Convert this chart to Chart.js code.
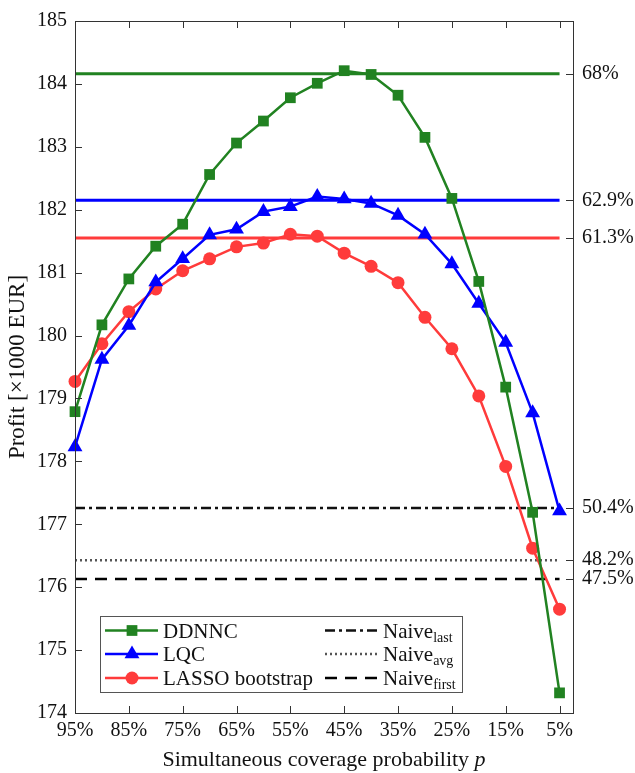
<!DOCTYPE html>
<html>
<head>
<meta charset="utf-8">
<script src="https://cdn.jsdelivr.net/npm/chart.js@4/dist/chart.umd.min.js"></script>
<style>
  html, body { margin: 0; padding: 0; background: #fff; }
  #wrap { width: 635px; height: 773px; }
</style>
</head>
<body>
<div id="wrap"><canvas id="profitChart"></canvas></div>
<script>
// simultaneous coverage probability p (%), from 95% down to 5%
var coverage = [95, 90, 85, 80, 75, 70, 65, 60, 55, 50, 45, 40, 35, 30, 25, 20, 15, 10, 5];

// profit in 1000 EUR for each method
var ddnnc = [178.79, 180.17, 180.90, 181.42, 181.77, 182.56, 183.06, 183.41, 183.78, 184.01,
             184.21, 184.15, 183.82, 183.15, 182.18, 180.86, 179.18, 177.19, 174.32];
var lqc   = [178.23, 179.62, 180.16, 180.85, 181.22, 181.60, 181.69, 181.97, 182.05, 182.21,
             182.17, 182.10, 181.91, 181.61, 181.14, 180.51, 179.89, 178.77, 177.21];
var lasso = [179.27, 179.87, 180.38, 180.74, 181.03, 181.22, 181.41, 181.47, 181.61, 181.58,
             181.31, 181.10, 180.84, 180.29, 179.79, 179.04, 177.92, 176.62, 175.65];

// reference levels: best DDNNC, best LQC, best LASSO, naive last / avg / first
var refLevels = [184.16, 182.15, 181.55, 177.26, 176.43, 176.13];
var refLabels = ['68%', '62.9%', '61.3%', '50.4%', '48.2%', '47.5%'];

var xTicks = [95, 85, 75, 65, 55, 45, 35, 25, 15, 5];

var GREEN = '#218221';
var BLUE = '#0000ff';
var RED = '#ff3b3b';
var SERIF = "'Liberation Serif', 'Times New Roman', serif";

function points(ys) {
    return ys.map(function (y, i) { return { x: coverage[i], y: y }; });
}
function level(v) {
    return [{ x: coverage[0], y: v }, { x: coverage[coverage.length - 1], y: v }];
}

function series(label, ys, color, style, radius) {
    return {
        label: label,
        data: points(ys),
        borderColor: color,
        backgroundColor: color,
        borderWidth: 2.5,
        pointStyle: style,
        pointRadius: radius,
        pointBorderWidth: 0,
        pointBackgroundColor: color,
        clip: false,
        legendText: label
    };
}
function hline(v, color, dash, width, legendText, legendSub) {
    return {
        data: level(v),
        borderColor: color,
        borderWidth: width,
        borderDash: dash,
        pointRadius: 0,
        legendText: legendText,
        legendSub: legendSub
    };
}

var datasets = [
    series('DDNNC', ddnnc, GREEN, 'rect', 7.6),
    series('LQC', lqc, BLUE, 'triangle', 8.6),
    series('LASSO bootstrap', lasso, RED, 'circle', 6.5),
    hline(refLevels[0], GREEN, [], 3),
    hline(refLevels[1], BLUE, [], 3),
    hline(refLevels[2], RED, [], 3),
    hline(refLevels[3], '#111', [10, 4, 3, 4], 2.5, 'Naive', 'last'),
    hline(refLevels[4], '#555', [2, 3], 2.5, 'Naive', 'avg'),
    hline(refLevels[5], '#000', [12, 8], 2.5, 'Naive', 'first')
];

function drawMarker(ctx, style, r, x, y, color) {
    ctx.fillStyle = color;
    ctx.beginPath();
    if (style === 'rect') {
        var s = r / Math.SQRT2;
        ctx.rect(x - s, y - s, 2 * s, 2 * s);
    } else if (style === 'triangle') {
        for (var k = 0; k < 3; k++) {
            var a = k * 2 * Math.PI / 3;
            var px = x + Math.sin(a) * r, py = y - Math.cos(a) * r;
            if (k === 0) ctx.moveTo(px, py); else ctx.lineTo(px, py);
        }
        ctx.closePath();
    } else {
        ctx.arc(x, y, r, 0, 2 * Math.PI);
    }
    ctx.fill();
}

// box, inward ticks, x title with italic p, and the two-column legend
var decorations = {
    id: 'decorations',
    afterDraw: function (chart) {
        var ctx = chart.ctx;
        var a = chart.chartArea;
        var sx = chart.scales.x, sy = chart.scales.y, sr = chart.scales.y2;
        var tick = 7;
        ctx.save();
        ctx.strokeStyle = '#333';
        ctx.lineWidth = 1;
        ctx.setLineDash([]);
        ctx.strokeRect(a.left + 0.5, a.top + 0.5, a.right - a.left, a.bottom - a.top);
        ctx.beginPath();
        sx.ticks.forEach(function (t) {
            var px = Math.round(sx.getPixelForValue(t.value)) + 0.5;
            ctx.moveTo(px, a.bottom); ctx.lineTo(px, a.bottom - tick);
            ctx.moveTo(px, a.top); ctx.lineTo(px, a.top + tick);
        });
        sy.ticks.forEach(function (t) {
            var py = Math.round(sy.getPixelForValue(t.value)) + 0.5;
            ctx.moveTo(a.left, py); ctx.lineTo(a.left + tick, py);
        });
        sr.ticks.forEach(function (t) {
            var py = Math.round(sr.getPixelForValue(t.value)) + 0.5;
            ctx.moveTo(a.right, py); ctx.lineTo(a.right - tick, py);
        });
        ctx.stroke();

        // x axis title
        ctx.fillStyle = '#111';
        ctx.textBaseline = 'alphabetic';
        var main = 'Simultaneous coverage probability ';
        ctx.font = '22px ' + SERIF;
        var w1 = ctx.measureText(main).width;
        ctx.font = 'italic 22px ' + SERIF;
        var w2 = ctx.measureText('p').width;
        var cx = (a.left + a.right) / 2;
        var x0 = cx - (w1 + w2) / 2;
        var ty = a.bottom + 53;
        ctx.font = '22px ' + SERIF;
        ctx.textAlign = 'left';
        ctx.fillText(main, x0, ty);
        ctx.font = 'italic 22px ' + SERIF;
        ctx.fillText('p', x0 + w1, ty);

        // legend
        var bx = a.left + 25, by = a.bottom - 97, bw = 362, bh = 76;
        ctx.fillStyle = '#fff';
        ctx.fillRect(bx, by, bw, bh);
        ctx.strokeStyle = '#555';
        ctx.lineWidth = 1;
        ctx.strokeRect(bx + 0.5, by + 0.5, bw, bh);
        var rows = [14.5, 38, 62];
        var cols = [5, 225];
        var ds = chart.data.datasets;
        var entries = [ds[0], ds[1], ds[2], ds[6], ds[7], ds[8]];
        entries.forEach(function (d, i) {
            var col = Math.floor(i / 3), row = i % 3;
            var lx = bx + cols[col], ly = by + rows[row];
            ctx.strokeStyle = d.borderColor;
            ctx.lineWidth = d.borderWidth;
            ctx.setLineDash(d.borderDash || []);
            ctx.beginPath();
            ctx.moveTo(lx, ly); ctx.lineTo(lx + 53, ly);
            ctx.stroke();
            ctx.setLineDash([]);
            if (d.pointStyle) drawMarker(ctx, d.pointStyle, d.pointRadius, lx + 27, ly, d.borderColor);
            ctx.fillStyle = '#111';
            ctx.textAlign = 'left';
            ctx.textBaseline = 'alphabetic';
            ctx.font = '21px ' + SERIF;
            var tx = lx + 58;
            ctx.fillText(d.legendText, tx, ly + 7);
            if (d.legendSub) {
                var wt = ctx.measureText(d.legendText).width;
                ctx.font = '14px ' + SERIF;
                ctx.fillText(d.legendSub, tx + wt, ly + 11);
            }
        });
        ctx.restore();
    }
};

new Chart(document.getElementById('profitChart'), {
    type: 'line',
    data: { datasets: datasets },
    plugins: [decorations],
    options: {
        responsive: true,
        maintainAspectRatio: false,
        animation: false,
        layout: { padding: { top: 12 } },
        plugins: { legend: { display: false }, tooltip: { enabled: false } },
        scales: {
            x: {
                type: 'linear',
                reverse: true,
                min: 2.5,
                max: 95,
                grid: { display: false, drawTicks: false },
                border: { display: false },
                afterBuildTicks: function (s) { s.ticks = xTicks.map(function (v) { return { value: v }; }); },
                afterFit: function (s) { s.height = 60; },
                ticks: {
                    autoSkip: false,
                    maxRotation: 0,
                    padding: 6,
                    color: '#111',
                    font: { family: SERIF, size: 20 },
                    callback: function (v) { return v + '%'; }
                }
            },
            y: {
                position: 'left',
                min: 174,
                max: 185,
                grid: { display: false, drawTicks: false },
                border: { display: false },
                afterFit: function (s) { s.width = 75; },
                ticks: {
                    stepSize: 1,
                    padding: 8,
                    color: '#111',
                    font: { family: SERIF, size: 20 }
                },
                title: {
                    display: true,
                    text: 'Profit [×1000 EUR]',
                    color: '#111',
                    font: { family: SERIF, size: 23 },
                    padding: { top: 4, bottom: 0 }
                }
            },
            y2: {
                position: 'right',
                min: 174,
                max: 185,
                grid: { display: false, drawTicks: false },
                border: { display: false },
                afterBuildTicks: function (s) { s.ticks = refLevels.map(function (v) { return { value: v }; }); },
                afterFit: function (s) { s.width = 62; },
                ticks: {
                    autoSkip: false,
                    padding: 9,
                    color: '#111',
                    font: { family: SERIF, size: 20 },
                    callback: function (v, i) { return refLabels[i]; }
                }
            }
        }
    }
});
</script>
</body>
</html>
